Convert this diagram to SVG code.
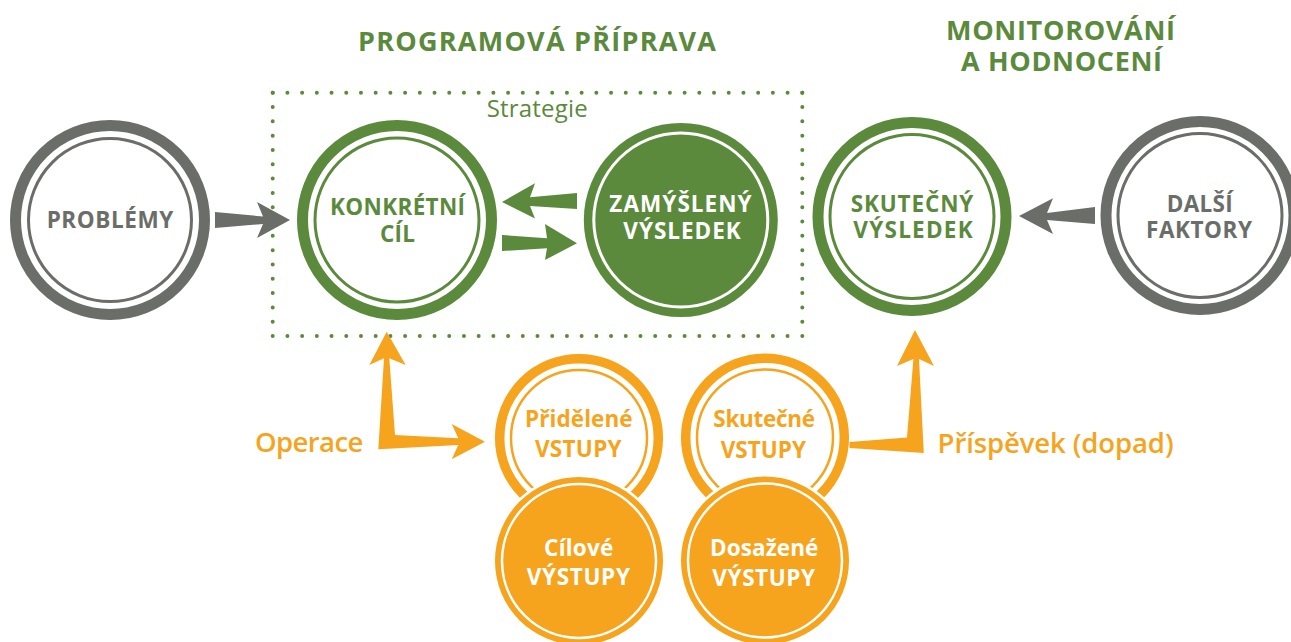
<svg xmlns="http://www.w3.org/2000/svg" width="1291" height="642" viewBox="0 0 1291 642">
<style>
.lbl{font-family:"Open Sans","Liberation Sans",sans-serif;font-weight:700;font-size:22.5px;text-anchor:middle}
.ttl{font-family:"Open Sans","Liberation Sans",sans-serif;font-weight:700;font-size:27px;text-anchor:middle;fill:#5b8a3d}
.side{font-family:"Open Sans","Liberation Sans",sans-serif;font-weight:600;font-size:27.5px;fill:#f6a41e}
.g{fill:#5b8a3d}.gr{fill:#6a6d68}.o{fill:#f6a41e}.w{fill:#ffffff}
.ringG{fill:none;stroke:#5b8a3d}.ringGr{fill:none;stroke:#6a6d68}.ringO{fill:none;stroke:#f6a41e}
.thick{stroke-width:11}.thin{stroke-width:3}
.dotH{stroke:#5b8a3d;stroke-width:4;stroke-linecap:round;stroke-dasharray:0 14.711}
.dotV{stroke:#5b8a3d;stroke-width:4;stroke-linecap:round;stroke-dasharray:0 14.312}
</style>
<rect width="1291" height="642" fill="#ffffff"/>
<g id="titles">
<text class="ttl" x="537" y="51" textLength="358" lengthAdjust="spacing">PROGRAMOVÁ PŘÍPRAVA</text>
<text class="ttl" x="1060.5" y="40" textLength="229" lengthAdjust="spacing">MONITOROVÁNÍ</text>
<text class="ttl" x="1061.5" y="71" textLength="201" lengthAdjust="spacing">A HODNOCENÍ</text>
</g>
<g id="strategie">
<line class="dotH" x1="272.7" y1="92.7" x2="802.3" y2="92.7"/>
<line class="dotH" x1="272.7" y1="336" x2="802.3" y2="336"/>
<line class="dotV" x1="272.7" y1="92.7" x2="272.7" y2="336"/>
<line class="dotV" x1="802.3" y1="92.7" x2="802.3" y2="336"/>
<text x="486.7" y="117" font-family="Open Sans, Liberation Sans, sans-serif" font-size="24" fill="#5b8a3d" textLength="101" lengthAdjust="spacing">Strategie</text>
</g>
<g id="problemy">
<circle class="ringGr thick" cx="110" cy="220" r="94.5"/>
<circle class="ringGr thin" cx="110" cy="220" r="81.5"/>
<text class="lbl gr" x="110" y="228.3" textLength="126.7" lengthAdjust="spacing">PROBLÉMY</text>
</g>
<g id="konkretni-cil">
<circle class="ringG thick" cx="397" cy="220" r="94.5"/>
<circle class="ringG thin" cx="397" cy="220" r="82"/>
<text class="lbl g" x="397.5" y="215" textLength="135" lengthAdjust="spacing">KONKRÉTNÍ</text>
<text class="lbl g" x="397.5" y="242" textLength="35" lengthAdjust="spacing">CÍL</text>
</g>
<g id="zamysleny-vysledek">
<circle class="g" cx="680.8" cy="220" r="97"/>
<circle fill="none" stroke="#ffffff" stroke-width="3" cx="680.8" cy="220" r="87"/>
<text class="lbl w" x="680.5" y="211.7" textLength="142.3" lengthAdjust="spacing">ZAMÝŠLENÝ</text>
<text class="lbl w" x="682" y="239" textLength="117.3" lengthAdjust="spacing">VÝSLEDEK</text>
</g>
<g id="skutecny-vysledek">
<circle class="ringG thick" cx="912" cy="216.5" r="94"/>
<circle class="ringG thin" cx="912" cy="216.5" r="82"/>
<text class="lbl g" x="912" y="211.7" textLength="122.7" lengthAdjust="spacing">SKUTEČNÝ</text>
<text class="lbl g" x="913" y="238.3" textLength="119.3" lengthAdjust="spacing">VÝSLEDEK</text>
</g>
<g id="dalsi-faktory">
<circle class="ringGr thick" cx="1200" cy="215.5" r="94"/>
<circle class="ringGr thin" cx="1200" cy="215.5" r="82"/>
<text class="lbl gr" x="1199.7" y="211.7" textLength="66" lengthAdjust="spacing">DALŠÍ</text>
<text class="lbl gr" x="1199" y="238.3" textLength="106" lengthAdjust="spacing">FAKTORY</text>
</g>
<g id="pridelene-vstupy">
<circle class="ringO" stroke-width="9.5" cx="579" cy="438" r="79.3"/>
<circle class="ringO" stroke-width="2.5" cx="579" cy="438" r="68"/>
<text class="lbl o" x="578.8" y="427" textLength="107.7" lengthAdjust="spacing">Přidělené</text>
<text class="lbl o" x="578.3" y="457.3" textLength="86.7" lengthAdjust="spacing">VSTUPY</text>
</g>
<g id="cilove-vystupy">
<circle class="w" cx="579" cy="561" r="86.5"/>
<circle class="o" cx="579" cy="561" r="84"/>
<circle fill="none" stroke="#ffffff" stroke-width="2.5" cx="579" cy="561" r="77"/>
<text class="lbl w" x="578.7" y="556" textLength="69.3" lengthAdjust="spacing">Cílové</text>
<text class="lbl w" x="578.3" y="585" textLength="103.3" lengthAdjust="spacing">VÝSTUPY</text>
</g>
<g id="skutecne-vstupy">
<circle class="ringO" stroke-width="9.5" cx="765" cy="437.5" r="79.3"/>
<circle class="ringO" stroke-width="2.5" cx="765" cy="437.5" r="68"/>
<text class="lbl o" x="764.2" y="427.3" textLength="101.7" lengthAdjust="spacing">Skutečné</text>
<text class="lbl o" x="763.3" y="458" textLength="85.3" lengthAdjust="spacing">VSTUPY</text>
</g>
<g id="dosazene-vystupy">
<circle class="w" cx="765" cy="560.5" r="86.5"/>
<circle class="o" cx="765" cy="560.5" r="84"/>
<circle fill="none" stroke="#ffffff" stroke-width="2.5" cx="765" cy="560.5" r="77"/>
<text class="lbl w" x="764.2" y="556" textLength="108.3" lengthAdjust="spacing">Dosažené</text>
<text class="lbl w" x="763.7" y="586" textLength="102.7" lengthAdjust="spacing">VÝSTUPY</text>
</g>
<g id="connectors">
<polygon class="gr" points="215,212 263,216.5 257,202 290,220 257,238 263,224 215,228"/>
<polygon class="g" points="577,193 530,197.3 535,183.3 502,202 535,218.5 530,206 577,209"/>
<polygon class="g" points="502,235 547,238.3 545,224 577,243.3 545,260 547,248.3 502,251"/>
<polygon class="gr" points="1095,207 1047,213 1053,198.3 1019,216 1053,234 1047,220 1095,224"/>
<polygon class="o" points="378.3,449.3 384,358.3 369.3,365 386.7,331.7 405.7,365 389.3,358.3 395,435 458.3,438.3 451.7,424 485,441.7 451.7,459.3 458.3,445"/>
<polygon class="o" points="849.5,442 907,437.6 913.4,359 897,366 915,330 934,366 919,359 923.8,453 849.5,448"/>
</g>
<g id="side-labels">
<text class="side" x="255" y="451.7" textLength="108.3" lengthAdjust="spacing">Operace</text>
<text class="side" x="937.6" y="453" textLength="236" lengthAdjust="spacing">Příspěvek (dopad)</text>
</g>
</svg>
